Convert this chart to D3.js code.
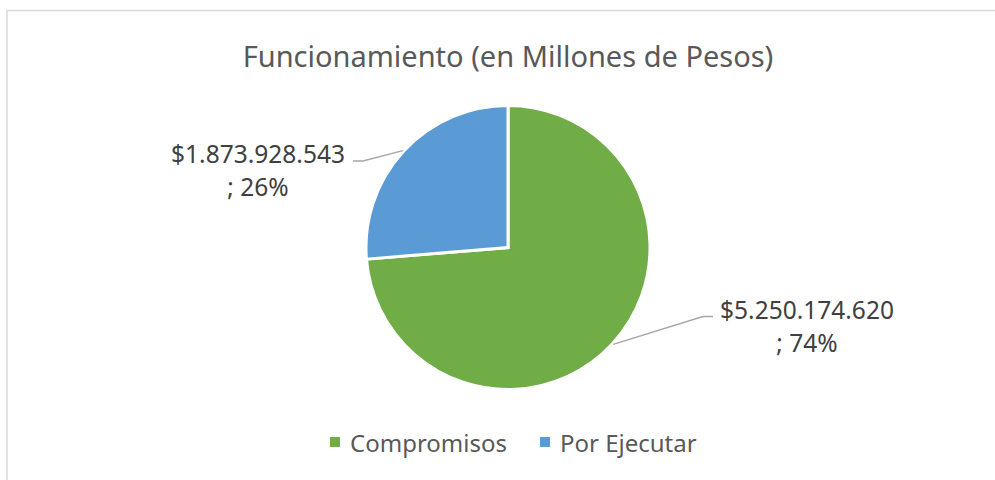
<!DOCTYPE html>
<html>
<head>
<meta charset="utf-8">
<script src="https://cdn.jsdelivr.net/npm/d3@7"></script>
<style>
  html, body { margin: 0; padding: 0; background: #fff; }
  svg { display: block; font-family: "Noto Sans", "Open Sans", sans-serif; }
</style>
</head>
<body>
<div id="chart"></div>
<script>
// chart data
const title = 'Funcionamiento (en Millones de Pesos)';
const categories = ['Compromisos', 'Por Ejecutar'];
const values = [5250174620, 1873928543];
const colors = ['#70AD47', '#5B9BD5'];

const width = 995, height = 480;
const cx = 508, cy = 247.5, radius = 142;

// label layout: elbow offset from pie center, and which side the text sits on
const labelLayout = [
  { ex: 195, ey: 69, side: 1, tx: 299, ty: 71 },
  { ex: -145, ey: -86.5, side: -1, tx: -250, ty: -85 }
];

const locale = d3.formatLocale({ decimal: ',', thousands: '.', grouping: [3], currency: ['$', ''] });
const fmtMoney = locale.format('$,.0f');
const total = d3.sum(values);

const svg = d3.select('#chart').append('svg')
  .attr('width', width)
  .attr('height', height)
  .attr('viewBox', `0 0 ${width} ${height}`);

// chart frame (cropped)
svg.append('rect')
  .attr('x', 7).attr('y', 10.5)
  .attr('width', 1000).attr('height', 600)
  .attr('fill', '#fff')
  .attr('stroke', '#d9d9d9')
  .attr('stroke-width', 1.5);

// title
svg.append('text')
  .attr('x', cx)
  .attr('y', 67)
  .attr('text-anchor', 'middle')
  .attr('fill', '#595959')
  .attr('font-size', 29)
  .text(title);

const data = categories.map((c, i) => ({ name: c, value: values[i], color: colors[i] }));

const pie = d3.pie().sort(null).value(d => d.value);
const arc = d3.arc().innerRadius(0).outerRadius(radius);
const arcs = pie(data);

const g = svg.append('g').attr('transform', `translate(${cx},${cy})`);

g.selectAll('path.slice')
  .data(arcs)
  .join('path')
  .attr('class', 'slice')
  .attr('d', arc)
  .attr('fill', d => d.data.color)
  .attr('stroke', '#fff')
  .attr('stroke-width', 3)
  .attr('stroke-linejoin', 'miter');

// leader lines + data labels
arcs.forEach((d, i) => {
  const mid = (d.startAngle + d.endAngle) / 2;
  const r0 = radius + 1;
  const x0 = Math.sin(mid) * r0, y0 = -Math.cos(mid) * r0;
  const L = labelLayout[i];
  g.append('polyline')
    .attr('points', [[x0, y0], [L.ex, L.ey], [L.ex + L.side * 10, L.ey]].map(p => p.join(',')).join(' '))
    .attr('fill', 'none')
    .attr('stroke', '#a6a6a6')
    .attr('stroke-width', 1.5);

  const t = g.append('text')
    .attr('text-anchor', 'middle')
    .attr('fill', '#404040')
    .attr('font-size', 24.5);
  t.append('tspan')
    .attr('x', L.tx).attr('y', L.ty)
    .text(fmtMoney(d.data.value));
  t.append('tspan')
    .attr('x', L.tx).attr('dy', 33)
    .text('; ' + Math.round(d.data.value / total * 100) + '%');
});

// legend
const legend = svg.append('g').attr('transform', 'translate(330,452)');
let lx = 0;
data.forEach(d => {
  const item = legend.append('g').attr('transform', `translate(${lx},0)`);
  item.append('rect')
    .attr('x', 0).attr('y', -15)
    .attr('width', 10).attr('height', 10)
    .attr('fill', d.color);
  const txt = item.append('text')
    .attr('x', 20).attr('y', 0)
    .attr('fill', '#595959')
    .attr('font-size', 24)
    .text(d.name);
  lx += 20 + txt.node().getComputedTextLength() + 33;
});
</script>
</body>
</html>
